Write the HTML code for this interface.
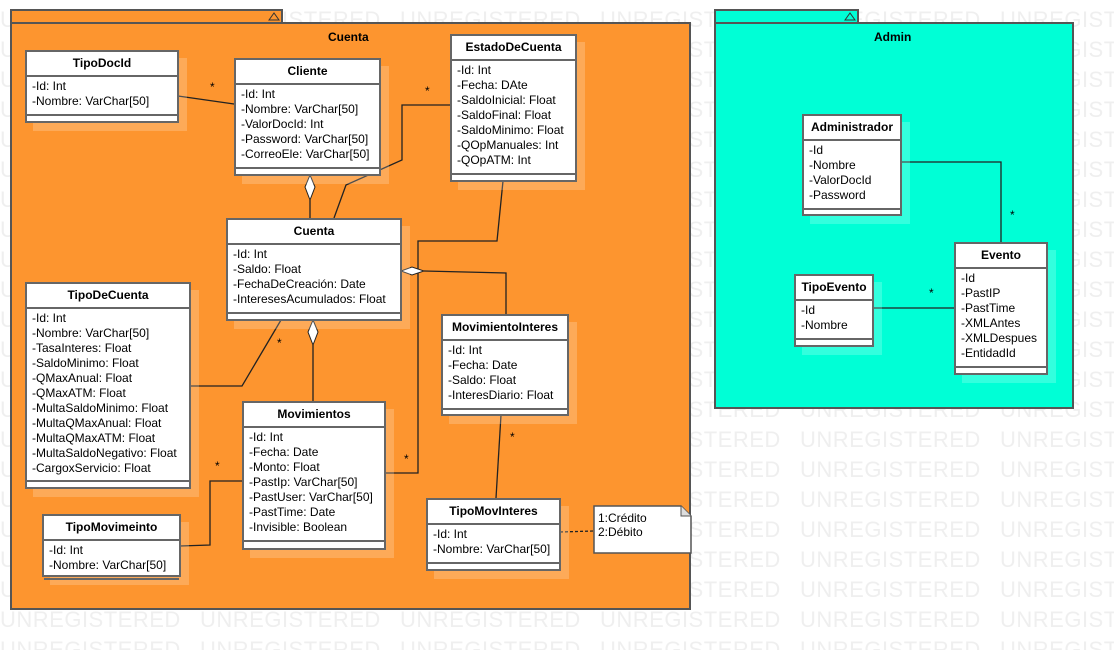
<!DOCTYPE html>
<html><head><meta charset="utf-8"><style>
body{margin:0;width:1114px;height:650px;position:relative;overflow:hidden;background:#fff;font-family:"Liberation Sans",sans-serif;}
#wm{position:absolute;left:0;top:0;width:1114px;height:650px;overflow:hidden}
.wm{position:absolute;left:0;font-size:22px;color:#efefef;white-space:nowrap;letter-spacing:0.5px;line-height:30px}
.wm span{display:inline-block;width:200px}
.pk{position:absolute;border:2px solid #555;box-sizing:border-box}
.c{position:absolute;background:#fff;border:2px solid #666;box-sizing:border-box;box-shadow:8px 8px 0 rgba(255,255,255,0.2);font-size:12px;color:#000}
.c .h{font-weight:bold;text-align:center;border-bottom:2px solid #666;box-sizing:border-box}
.c .a{padding-left:5px;line-height:15px;border-bottom:2px solid #666;box-sizing:border-box;padding-top:2px;white-space:nowrap}
.t{position:absolute;font-size:12px}
</style></head><body>
<div id="wm"></div>
<script>
var s='';for(var i=0;i<22;i++){s+='<div class="wm" style="top:'+(5+i*30)+'px">';for(var j=0;j<6;j++)s+='<span>UNREGISTERED</span>';s+='</div>';}
document.getElementById('wm').innerHTML=s;
</script>
<div class="pk" style="left:10px;top:9px;width:273px;height:15px;background:#fd952f"></div>
<div class="pk" style="left:10px;top:22px;width:681px;height:588px;background:#fd952f"></div>
<div class="pk" style="left:714px;top:9px;width:145px;height:15px;background:#00ffd6"></div>
<div class="pk" style="left:714px;top:22px;width:360px;height:387px;background:#00ffd6"></div>
<svg style="position:absolute;left:0;top:0" width="1114" height="650">
<polygon points="269,20 274,13 279,20" fill="none" stroke="#333"/>
<polygon points="845,20 850,13 855,20" fill="none" stroke="#333"/>
<g stroke="#222" stroke-width="1.3" fill="none">
<polyline points="178,96 234,104"/>
<polyline points="310,200 310,218"/>
<polyline points="450,105 402,105 402,160 346,185 334,218"/>
<polyline points="503,181 497,241 418,241 418,473 385,473"/>
<polyline points="424,271 506,273 506,314"/>
<polyline points="281,320 242,386 190,386"/>
<polyline points="313,345 313,401"/>
<polyline points="242,481 210,481 210,545 180,546"/>
<polyline points="501,415 496,498"/>
<polyline points="560,532 594,531" stroke-dasharray="3,2"/>
<polyline points="901,162 1001,162 1001,242"/>
<polyline points="873,308 954,308"/>
</g>
<g stroke="#222" fill="#fff">
<polygon points="310,175 315,187 310,200 305,187"/>
<polygon points="401,271 412,267 424,271 412,275"/>
<polygon points="313,320 318,332 313,345 308,332"/>
</g>
<path d="M594,506 H681 L691,516 V553 H594 Z" fill="#fff" stroke="#555" stroke-width="1.5"/>
<path d="M681,506 V516 H691" fill="#ddd" stroke="#555"/>
</svg>
<div class="t" style="left:328px;top:30px;font-weight:bold">Cuenta</div>
<div class="t" style="left:874px;top:30px;font-weight:bold">Admin</div>
<div class="t" style="left:210px;top:80px">*</div>
<div class="t" style="left:425px;top:84px">*</div>
<div class="t" style="left:277px;top:336px">*</div>
<div class="t" style="left:404px;top:452px">*</div>
<div class="t" style="left:215px;top:459px">*</div>
<div class="t" style="left:510px;top:430px">*</div>
<div class="t" style="left:1010px;top:208px">*</div>
<div class="t" style="left:929px;top:286px">*</div>
<div class="t" style="left:598px;top:511px;line-height:14px">1:Crédito<br>2:Débito</div>

<div class="c" style="left:25px;top:50px;width:154px;height:73px"><div class="h" style="height:25px;line-height:23px">TipoDocId</div><div class="a" style="height:39px">-Id: Int<br>-Nombre: VarChar[50]</div></div>
<div class="c" style="left:234px;top:58px;width:147px;height:118px"><div class="h" style="height:25px;line-height:23px">Cliente</div><div class="a" style="height:84px">-Id: Int<br>-Nombre: VarChar[50]<br>-ValorDocId: Int<br>-Password: VarChar[50]<br>-CorreoEle: VarChar[50]</div></div>
<div class="c" style="left:450px;top:34px;width:127px;height:148px"><div class="h" style="height:25px;line-height:23px">EstadoDeCuenta</div><div class="a" style="height:114px">-Id: Int<br>-Fecha: DAte<br>-SaldoInicial: Float<br>-SaldoFinal: Float<br>-SaldoMinimo: Float<br>-QOpManuales: Int<br>-QOpATM: Int</div></div>
<div class="c" style="left:226px;top:218px;width:176px;height:103px"><div class="h" style="height:25px;line-height:23px">Cuenta</div><div class="a" style="height:69px">-Id: Int<br>-Saldo: Float<br>-FechaDeCreación: Date<br>-InteresesAcumulados: Float</div></div>
<div class="c" style="left:25px;top:282px;width:166px;height:207px"><div class="h" style="height:25px;line-height:23px">TipoDeCuenta</div><div class="a" style="height:173px">-Id: Int<br>-Nombre: VarChar[50]<br>-TasaInteres: Float<br>-SaldoMinimo: Float<br>-QMaxAnual: Float<br>-QMaxATM: Float<br>-MultaSaldoMinimo: Float<br>-MultaQMaxAnual: Float<br>-MultaQMaxATM: Float<br>-MultaSaldoNegativo: Float<br>-CargoxServicio: Float</div></div>
<div class="c" style="left:441px;top:314px;width:128px;height:102px"><div class="h" style="height:25px;line-height:23px">MovimientoInteres</div><div class="a" style="height:69px">-Id: Int<br>-Fecha: Date<br>-Saldo: Float<br>-InteresDiario: Float</div></div>
<div class="c" style="left:242px;top:401px;width:144px;height:149px"><div class="h" style="height:25px;line-height:23px">Movimientos</div><div class="a" style="height:114px">-Id: Int<br>-Fecha: Date<br>-Monto: Float<br>-PastIp: VarChar[50]<br>-PastUser: VarChar[50]<br>-PastTime: Date<br>-Invisible: Boolean</div></div>
<div class="c" style="left:42px;top:514px;width:139px;height:63px"><div class="h" style="height:25px;line-height:23px">TipoMovimeinto</div><div class="a" style="height:39px">-Id: Int<br>-Nombre: VarChar[50]</div></div>
<div class="c" style="left:426px;top:498px;width:135px;height:73px"><div class="h" style="height:25px;line-height:23px">TipoMovInteres</div><div class="a" style="height:39px">-Id: Int<br>-Nombre: VarChar[50]</div></div>
<div class="c" style="left:802px;top:114px;width:100px;height:102px"><div class="h" style="height:25px;line-height:23px">Administrador</div><div class="a" style="height:69px">-Id<br>-Nombre<br>-ValorDocId<br>-Password</div></div>
<div class="c" style="left:954px;top:242px;width:94px;height:133px"><div class="h" style="height:25px;line-height:23px">Evento</div><div class="a" style="height:99px">-Id<br>-PastIP<br>-PastTime<br>-XMLAntes<br>-XMLDespues<br>-EntidadId</div></div>
<div class="c" style="left:794px;top:274px;width:80px;height:73px"><div class="h" style="height:25px;line-height:23px">TipoEvento</div><div class="a" style="height:39px">-Id<br>-Nombre</div></div>
</body></html>
